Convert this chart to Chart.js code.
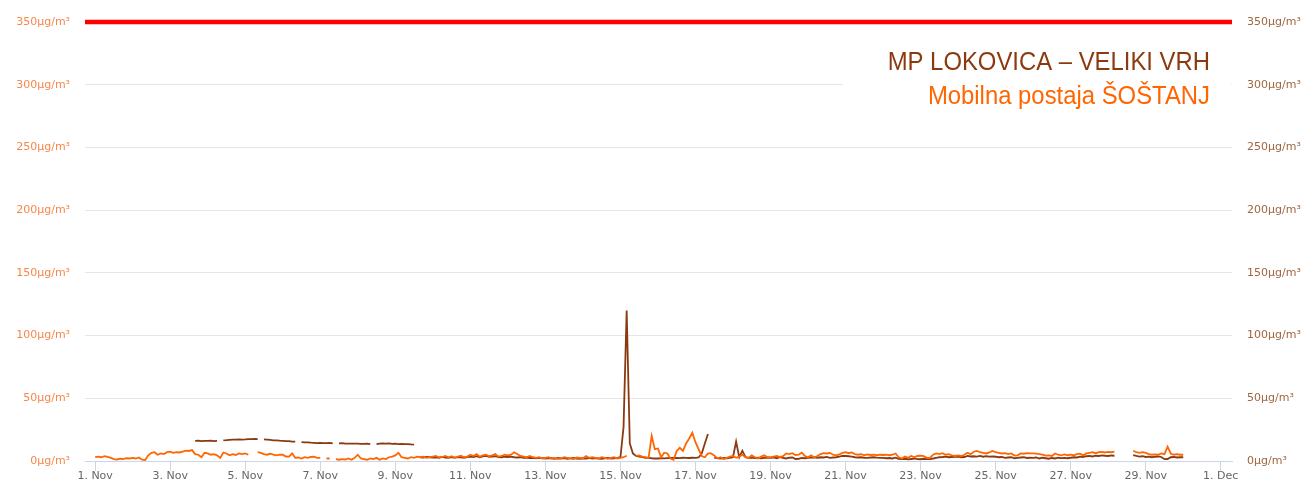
<!DOCTYPE html>
<html>
<head>
<meta charset="utf-8">
<script src="https://cdn.jsdelivr.net/npm/chart.js@4.4.1/dist/chart.umd.min.js"></script>
<style>
  html, body { margin: 0; padding: 0; background: #ffffff; overflow: hidden; }
  canvas { display: block; }
</style>
</head>
<body>
<canvas id="so2" width="1303" height="480"></canvas>
<script>
// hourly SO2 readings, sampled every 2 hours from 1. Nov 00:00 (12 values per day)
const stepHours = 2;

const stationNames = ['MP LOKOVICA \u2013 VELIKI VRH', 'Mobilna postaja \u0160O\u0160TANJ'];

const sostanjSO2 = [
  3, 3.5, 3, 3.8, 3.2, 2.5, 1.5, 1.2, 1.8, 1.5, 2.2, 2.0,
  2.5, 2.0, 2.8, 1.0, 0.8, 4.5, 6.5, 7.0, 5.0, 6.0, 5.5, 7.0,
  7.5, 6.5, 7.0, 6.8, 7.5, 8.2, 8.0, 8.7, 5.5, 5.0, 3.0, 6.5,
  6.0, 5.0, 5.5, 4.5, 2.5, 6.8, 6.0, 4.5, 5.5, 4.8, 6.0, 5.5,
  6.0, 5.0, null, null, 7.0, 6.5, 5.5, 5.0, 5.8, 5.0, 4.5, 5.0,
  5.0, 3.6, 3.5, 6.0, 2.5, 2.8, 2.0, 3.0, 2.5, 3.2, 3.4, 2.5,
  2.5, null, 2.0, 2.0, null, 1.5, 1.0, 1.5, 1.2, 2.0, 1.0, 2.5,
  5.0, 2.0, 1.5, 1.0, 2.0, 1.5, 2.5, 1.0, 2.0, 1.5, 3.0, 3.5,
  4.5, 6.5, 3.0, 2.5, 2.0, 3.0, 2.5, 3.5, 3.0, 3.5, 2.5, 3.0,
  3.5, 4.0, 2.8, 3.2, 4.0, 3.0, 3.8, 2.5, 3.5, 4.2, 3.0, 3.5,
  5.0, 4.0, 5.5, 3.5, 4.5, 5.0, 3.8, 4.5, 5.5, 3.5, 4.0, 5.0,
  4.5, 5.0, 7.0, 5.5, 4.0, 3.5, 3.0, 4.0, 3.0, 2.5, 3.0, 2.0,
  2.5, 3.0, 2.0, 2.5, 1.5, 2.0, 3.0, 2.5, 2.0, 1.5, 2.8, 2.5,
  2.0, 4.0, 2.5, 3.0, 2.5, 2.0, 3.0, 2.5, 1.8, 2.5, 3.0, 2.0,
  2.5, 3.0, 4.2, null, null, 4.0, 4.5, 3.5, 3.0, 2.5, 20, 9.5,
  10, 3, 6.6, 6.0, 2, 1.0, 8.0, 10.5, 8.0, 14, 18, 22.5,
  15, 9.5, 4.0, 3.0, 6.0, 6.0, 4.5, 2.0, 3.0, 1.5, 2.5, 3.5,
  4.0, 2.5, 3.5, 5.0, 3.0, 2.5, 4.5, 3.0, 2.0, 3.5, 4.5, 3.0,
  3.0, 3.5, 4.0, 3.2, 3.8, 6.0, 5.5, 6.2, 4.8, 5.0, 6.6, 4.0,
  3.0, 4.5, 2.8, 4.0, 5.5, 6.3, 6.0, 6.5, 5.0, 4.5, 5.2, 6.5,
  7.0, 6.2, 6.8, 5.5, 5.0, 5.5, 4.6, 5.2, 4.8, 5.0, 4.6, 5.0,
  4.8, 5.0, 4.6, 5.0, 6.0, 3.0, 2.0, 3.5, 2.5, 4.0, 3.2, 4.0,
  4.2, 3.8, 2.5, 2.4, 5.0, 6.0, 5.5, 6.3, 5.0, 5.5, 4.5, 4.0,
  4.5, 4.0, 5.0, 6.6, 5.5, 7.4, 8.0, 7.0, 6.5, 6.0, 6.8, 8.0,
  7.0, 6.5, 6.0, 6.2, 5.5, 6.0, 4.3, 4.5, 6.0, 5.8, 6.2, 6.0,
  6.0, 5.8, 5.5, 5.0, 4.3, 4.5, 4.0, 6.0, 5.0, 4.5, 5.2, 4.6,
  5.0, 4.6, 5.5, 5.8, 4.5, 6.0, 6.5, 7.0, 6.2, 7.0, 7.3, 6.8,
  7.2, 7.0, 7.5, null, null, null, null, null, 8.2, 7.0, 6.5, 7.0,
  6.5, 5.5, 5.0, 5.3, 5.0, 6.0, 5.5, 11.4, 6.0, 5.0, 5.5, 5.0,
  5.0, null, null, null, null, null, null, null, null, null, null, null
];

const lokovicaSO2 = [
  null, null, null, null, null, null, null, null, null, null, null, null,
  null, null, null, null, null, null, null, null, null, null, null, null,
  null, null, null, null, null, null, null, null, 16.0, 16.2, 15.8, 16.0,
  16.0, 16.2, 15.8, 16.0, null, 16.5, 16.6, 16.8, 17.0, 17.0, 17.2, 17.0,
  17.2, 17.5, 17.4, 17.6, 17.5, null, 17.2, 17.0, 16.8, 16.5, 16.5, 16.2,
  16.0, 15.8, 15.8, 15.5, 15.5, null, 15.0, 14.8, 14.8, 14.6, 14.5, 14.3,
  14.5, 14.3, 14.2, 14.5, 14.0, null, 14.0, 14.2, 13.8, 13.9, 13.8, 13.9,
  13.8, 13.7, 13.6, 13.8, 13.5, null, 13.5, 13.8, 14.0, 13.8, 14.0, 13.6,
  13.8, 13.5, 13.6, 13.4, 13.5, 13.2, 13.0, null, 3.0, 2.8, 3.2, 3.0,
  2.8, 3.0, 2.6, 3.2, 2.8, 2.5, 3.0, 2.7, 3.1, 2.9, 2.6, 3.0,
  3.5, 3.2, 3.8, 3.0, 3.6, 4.0, 3.3, 3.5, 3.8, 3.2, 3.0, 3.4,
  3.2, 3.5, 3.0, 2.8, 3.0, 2.5, 2.8, 2.4, 2.6, 2.2, 2.5, 2.3,
  2.0, 2.4, 2.2, 1.8, 2.5, 2.0, 2.3, 1.8, 2.1, 2.4, 2.0, 1.8,
  2.2, 2.0, 2.4, 1.9, 2.3, 2.0, 1.8, 2.2, 2.5, 2.0, 2.2, 2.5,
  3.0, 27, 120, 14, 6.0, 4.0, 3.5, 3.0, 2.5, 2.5, 2.2, 2.0,
  2.0, 2.2, 2.1, 2.3, 2.5, 2.4, 2.5, 2.3, 2.6, 2.5, 2.4, 2.6,
  2.5, 2.8, 6.0, 14.0, 21.5, null, 2.5, 2.3, 2.0, 2.4, 2.2, 2.5,
  3.0, 15.4, 3.0, 8.2, 3.0, 2.5, 2.8, 2.4, 2.6, 2.2, 2.5, 2.8,
  2.5, 2.8, 2.2, 3.0, 2.5, 2.0, 2.6, 2.8, 1.6, 1.8, 2.5, 2.2,
  2.5, 2.8, 3.0, 2.6, 3.0, 2.8, 3.2, 2.5, 2.8, 3.0, 3.5, 4.0,
  4.0, 3.8, 3.5, 3.0, 2.8, 3.0, 2.6, 2.5, 2.8, 3.0, 2.7, 2.5,
  2.5, 2.2, 2.4, 2.0, 2.6, 1.8, 1.5, 1.8, 1.4, 1.6, 2.0, 1.5,
  1.4, 1.8, 1.5, 1.6, 2.0, 2.5, 3.0, 3.2, 3.5, 3.0, 3.2, 3.4,
  3.5, 3.0, 3.2, 4.0, 3.6, 3.8, 3.5, 4.0, 3.4, 3.8, 3.5, 3.6,
  3.4, 3.0, 3.2, 2.5, 2.8, 3.0, 2.2, 2.5, 2.8, 3.0, 2.4, 2.6,
  2.5, 2.8, 2.0, 2.6, 2.2, 1.8, 2.4, 2.0, 2.6, 2.3, 2.5, 2.2,
  2.6, 3.0, 2.8, 3.5, 3.2, 3.8, 4.0, 3.6, 4.2, 4.0, 4.5, 4.2,
  4.0, 4.4, 4.2, null, null, null, null, null, 4.6, 4.0, 3.5, 3.8,
  3.2, 3.5, 3.0, 3.4, 3.6, 3.2, 1.5, 1.6, 3.0, 3.2, 2.8, 3.0,
  3.0, null, null, null, null, null, null, null, null, null, null, null
];

// limit value (hourly SO2 limit)
const limitValue = 350;

// x ticks: days since 1. Nov 00:00
const xTickDays = [0, 2, 4, 6, 8, 10, 12, 14, 16, 18, 20, 22, 24, 26, 28, 30];
const xTickLabels = ['1. Nov', '3. Nov', '5. Nov', '7. Nov', '9. Nov', '11. Nov', '13. Nov', '15. Nov',
                     '17. Nov', '19. Nov', '21. Nov', '23. Nov', '25. Nov', '27. Nov', '29. Nov', '1. Dec'];
const yTickStep = 50;
const yMax = 350;

const xMin = -0.27;
const xMax = 30.3;

const brown = '#8B3A10';
const orange = '#FF6600';

function toPoints(values) {
    return values.map((v, i) => ({ x: i * stepHours / 24, y: v }));
}

// white box with the two station names, top right of the plot
const titleBox = {
    id: 'titleBox',
    beforeDatasetsDraw(chart) {
        const { ctx, chartArea } = chart;
        const right = chartArea.right - 22;
        ctx.save();
        ctx.fillStyle = '#ffffff';
        ctx.fillRect(chartArea.right - 389, chartArea.top + 18, 388, 72);
        ctx.font = '26px "Liberation Sans", Arial, sans-serif';
        ctx.textAlign = 'right';
        ctx.textBaseline = 'alphabetic';

        ctx.save();
        ctx.translate(right, chartArea.top + 47.5);
        ctx.scale(0.918, 1);
        ctx.fillStyle = brown;
        ctx.fillText(stationNames[0], 0, 0);
        ctx.restore();

        ctx.save();
        ctx.translate(right, chartArea.top + 81.5);
        ctx.scale(0.918, 1);
        ctx.fillStyle = orange;
        ctx.fillText(stationNames[1], 0, 0);
        ctx.restore();

        ctx.restore();
    }
};

// fixed axis width; drop the vertical padding that the tick padding adds
function fitY(width) {
    return (scale) => {
        scale.width = width;
        scale.paddingTop = 0;
        scale.paddingBottom = 0;
    };
}

document.addEventListener('DOMContentLoaded', function() {
    const ctx = document.getElementById('so2').getContext('2d');

    new Chart(ctx, {
        type: 'line',
        data: {
            datasets: [
                {
                    label: 'limit',
                    data: [{ x: xMin, y: limitValue }, { x: xMax, y: limitValue }],
                    borderColor: '#ff0000',
                    borderWidth: 4.5,
                    pointRadius: 0,
                    clip: false,
                    yAxisID: 'y',
                    order: 0
                },
                {
                    label: stationNames[1],
                    data: toPoints(sostanjSO2),
                    borderColor: orange,
                    borderWidth: 1.8,
                    pointRadius: 0,
                    tension: 0,
                    spanGaps: false,
                    yAxisID: 'y',
                    order: 1
                },
                {
                    label: stationNames[0],
                    data: toPoints(lokovicaSO2),
                    borderColor: brown,
                    borderWidth: 1.8,
                    pointRadius: 0,
                    tension: 0,
                    spanGaps: false,
                    yAxisID: 'y2',
                    order: 2
                }
            ]
        },
        options: {
            responsive: false,
            animation: false,
            layout: { padding: { top: 22, left: 0, right: 0, bottom: 0 } },
            font: { family: '"DejaVu Sans", Verdana, sans-serif' },
            plugins: {
                legend: { display: false },
                tooltip: { enabled: false },
                title: { display: false }
            },
            scales: {
                x: {
                    type: 'linear',
                    min: xMin,
                    max: xMax,
                    afterBuildTicks: (scale) => {
                        scale.ticks = xTickDays.map(v => ({ value: v }));
                    },
                    afterFit: (scale) => { scale.height = 19; },
                    ticks: {
                        autoSkip: false,
                        maxRotation: 0,
                        padding: -1,
                        color: '#666666',
                        font: { family: '"DejaVu Sans", Verdana, sans-serif', size: 11 },
                        callback: (value) => xTickLabels[xTickDays.indexOf(value)]
                    },
                    grid: {
                        drawOnChartArea: false,
                        drawTicks: true,
                        tickLength: 10,
                        color: '#ccd6eb'
                    },
                    border: { display: true, color: '#ccd6eb', width: 1 }
                },
                y: {
                    position: 'left',
                    min: 0,
                    max: yMax,
                    afterFit: fitY(85),
                    ticks: {
                        stepSize: yTickStep,
                        padding: 15,
                        color: '#f7864a',
                        font: { family: '"DejaVu Sans", Verdana, sans-serif', size: 11 },
                        callback: (value) => value + '\u03bcg/m\u00b3'
                    },
                    grid: { color: '#e6e6e6', drawTicks: false },
                    border: { display: false }
                },
                y2: {
                    position: 'right',
                    min: 0,
                    max: yMax,
                    afterFit: fitY(71),
                    ticks: {
                        stepSize: yTickStep,
                        padding: 15,
                        color: '#a0663f',
                        font: { family: '"DejaVu Sans", Verdana, sans-serif', size: 11 },
                        callback: (value) => value + '\u03bcg/m\u00b3'
                    },
                    grid: { display: false, drawTicks: false },
                    border: { display: false }
                }
            }
        },
        plugins: [titleBox]
    });
});
</script>
</body>
</html>
